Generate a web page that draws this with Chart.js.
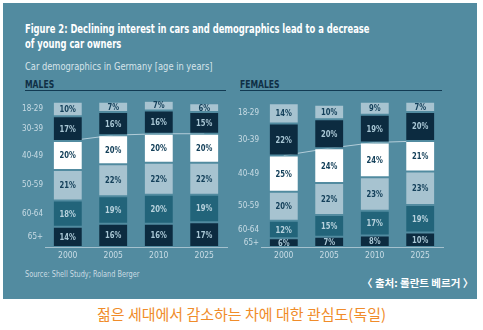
<!DOCTYPE html>
<html><head><meta charset="utf-8">
<script src="https://cdn.jsdelivr.net/npm/chart.js@4"></script>
<style>
html,body{margin:0;padding:0;background:#fff;width:483px;height:330px;overflow:hidden;}
#panel{position:absolute;left:3px;top:3px;width:474px;height:296px;background:#528ba0;}
.t{position:absolute;white-space:nowrap;font-family:"DejaVu Sans Condensed","DejaVu Sans",sans-serif;transform-origin:0 0;}
#title{left:25px;top:22px;color:#fff;font-weight:bold;font-size:11.5px;line-height:15px;transform:scaleX(0.81);}
#sub{left:25px;top:60px;color:#d6e4ea;font-size:10.5px;transform:scaleX(0.88);}
.hdr{top:79px;color:#0f2f45;font-weight:bold;font-size:10px;transform:scaleX(0.85);}
.rule{position:absolute;height:1px;background:#123a52;top:90px;}
#src{left:25px;top:270px;color:#c9dbe3;font-size:8px;transform:scaleX(0.91);}
#src2{left:362px;top:275px;color:#fff;font-weight:bold;font-size:10.5px;font-family:"Noto Sans CJK KR",sans-serif;}
#cap{left:0;width:483px;text-align:center;top:303px;color:#f08c2a;font-size:15px;font-family:"Noto Sans CJK KR",sans-serif;}
.cv{position:absolute;top:95px;width:210px;height:167px;}
</style></head>
<body>
<div id="panel"></div>
<div class="t" id="title">Figure 2: Declining interest in cars and demographics lead to a decrease<br>of young car owners</div>
<div class="t" id="sub">Car demographics in Germany [age in years]</div>
<div class="t hdr" style="left:25px">MALES</div>
<div class="t hdr" style="left:240px">FEMALES</div>
<div class="rule" style="left:25px;width:201px"></div>
<div class="rule" style="left:240px;width:202px"></div>
<div class="cv" style="left:20px"><canvas id="m"></canvas></div>
<div class="cv" style="left:236px"><canvas id="f"></canvas></div>
<div class="t" id="src">Source: Shell Study; Roland Berger</div>
<div class="t" id="src2">〈 출처: 롤란트 베르거 〉</div>
<div class="t" id="cap">젊은 세대에서 감소하는 차에 대한 관심도(독일)</div>
<script>
const categories = ['2000','2005','2010','2025'];
const ageGroups = ['65+','60-64','50-59','40-49','30-39','18-29']; // bottom to top

const male65   = [14,16,16,17];
const male6064 = [18,19,20,19];
const male5059 = [21,22,22,22];
const male4049 = [20,20,20,20];
const male3039 = [17,16,16,15];
const male1829 = [10,7,7,6];

const female65   = [6,7,8,10];
const female6064 = [12,15,17,19];
const female5059 = [20,22,23,23];
const female4049 = [25,24,24,21];
const female3039 = [22,20,19,20];
const female1829 = [14,10,9,7];

const BG = '#528ba0';
const NAVY = '#0c2b40', TEAL = '#22647a', LIGHT = '#a7c3d0', WHITE = '#ffffff';
const segColors = [NAVY, TEAL, LIGHT, WHITE, NAVY, LIGHT];
const txtColors = ['#a9c7d5', '#b8d2dd', '#14405a', '#14405a', '#a9c7d5', '#14405a'];
const FONT = '"DejaVu Sans Condensed","DejaVu Sans",sans-serif';

const labelPlugin = {
  id: 'segLabels',
  afterDatasetsDraw(chart) {
    const ctx = chart.ctx;
    chart.data.datasets.forEach((ds, di) => {
      if (ds.type === 'line') return;
      const meta = chart.getDatasetMeta(di);
      meta.data.forEach((el, i) => {
        ctx.save();
        ctx.font = 'bold 9.5px ' + FONT;
        ctx.textAlign = 'center';
        ctx.textBaseline = 'middle';
        ctx.fillStyle = ds.txt;
        ctx.translate(el.x, (el.y + el.base) / 2 + 0.5);
        ctx.scale(0.8, 1);
        ctx.fillText(ds.data[i] + '%', 0, 0);
        ctx.restore();
      });
    });
  }
};

function makeChart(id, series) {
  const trend = categories.map((c, i) => series[0][i] + series[1][i] + series[2][i] + series[3][i]);
  const mids = [];
  let acc = 0;
  series.forEach(s => { mids.push(acc + s[0] / 2); acc += s[0]; });
  const datasets = series.map((s, k) => ({
    type: 'bar',
    label: ageGroups[k],
    data: s,
    backgroundColor: segColors[k],
    borderColor: BG,
    borderWidth: {top: 1, bottom: 1, left: 0, right: 0},
    borderSkipped: false,
    txt: txtColors[k],
    stack: 'a',
    order: 0,
    barPercentage: 0.62,
    categoryPercentage: 1
  }));
  datasets.push({
    type: 'line', label: 'trend', data: trend, stack: 'trend',
    borderColor: '#b3cdd9', borderWidth: 1, pointRadius: 0, order: 5, tension: 0
  });
  return new Chart(document.getElementById(id), {
    data: { labels: categories, datasets },
    plugins: [labelPlugin],
    options: {
      responsive: true, maintainAspectRatio: false, animation: false,
      layout: { padding: { top: 6.5, right: 3, left: 0, bottom: 0 } },
      plugins: { legend: { display: false }, tooltip: { enabled: false } },
      scales: {
        x: {
          stacked: true,
          grid: { display: false, drawTicks: false },
          border: { display: true, color: '#a4c1ce', width: 1 },
          ticks: { color: '#c9dce5', font: { family: FONT, size: 8.5 }, padding: 4 },
          afterFit(a) { a.height = 15; }
        },
        y: {
          stacked: true, min: 0, max: 100,
          grid: { display: false, drawTicks: false },
          border: { display: false },
          afterBuildTicks(a) { a.ticks = mids.map(v => ({ value: v })); },
          afterFit(a) { a.width = 25; },
          ticks: {
            autoSkip: false, padding: 2, color: '#c9dce5',
            font: { family: FONT, size: 8 },
            callback: (v, i) => ageGroups[i]
          }
        }
      }
    }
  });
}

makeChart('m', [male65, male6064, male5059, male4049, male3039, male1829]);
makeChart('f', [female65, female6064, female5059, female4049, female3039, female1829]);
</script>
</body></html>
